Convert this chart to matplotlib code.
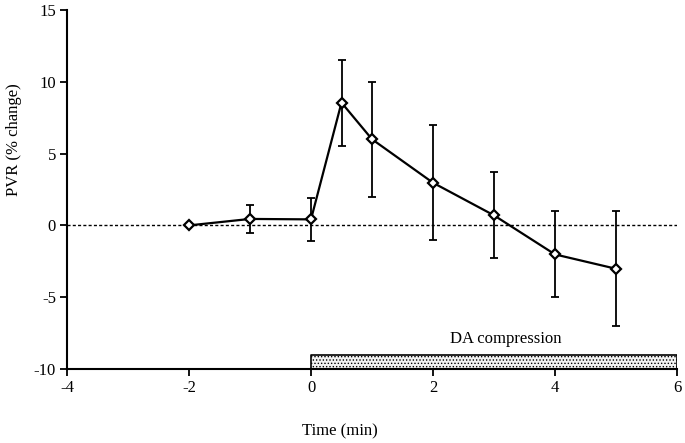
import matplotlib
matplotlib.use("Agg")
import matplotlib.pyplot as plt
import numpy as np

plt.rcParams['font.family'] = ['Liberation Serif', 'DejaVu Serif']
plt.rcParams['hatch.linewidth'] = 0.6

times = [-2, -1, 0, 0.5, 1, 2, 3, 4, 5]
pvr = [0.0, 0.45, 0.42, 8.55, 6.0, 2.97, 0.7, -2.02, -3.02]
sem = [0.0, 1.0, 1.5, 3.0, 4.0, 4.0, 3.0, 3.0, 4.0]
xticks = [-4, -2, 0, 2, 4, 6]
yticks = [-10, -5, 0, 5, 10, 15]
compression_start, compression_end = 0, 6
compression_label = "DA compression"

fig = plt.figure(figsize=(6.85, 4.43), dpi=100)
ax = fig.add_axes([67/685, 74/443, 610/685, 359/443])

ax.set_xlim(-4, 6)
ax.set_ylim(-10, 15)

# zero reference line
ax.plot([-4, 6], [0, 0], color='black', lw=1.0, linestyle=(0, (2.2, 1.6)), zorder=1)

# error bars (skip zero-length)
t = np.array(times); p = np.array(pvr); e = np.array(sem)
m = e > 0
ax.errorbar(t[m], p[m], yerr=e[m], fmt='none', ecolor='black', elinewidth=1.3,
            capsize=3.2, capthick=1.3, zorder=2)
ax.plot(times, pvr, color='black', lw=1.6, marker='D', markersize=5,
        markerfacecolor='white', markeredgecolor='black', markeredgewidth=1.6, zorder=3)

# compression bar
ax.fill_between([compression_start, compression_end], -10, -9.05, facecolor='#f2f2f2',
                edgecolor='black', hatch='.....', linewidth=1.2, zorder=2)
ax.text(3.2, -7.9, compression_label, ha='center', va='center', fontsize=12)

ax.set_xticks(xticks)
ax.set_yticks(yticks)
ax.set_xticklabels([str(v) for v in xticks])
ax.set_yticklabels([str(v) for v in yticks])
ax.tick_params(direction='out', length=5, width=1.3, labelsize=12, pad=3)
for s in ['top', 'right']:
    ax.spines[s].set_visible(False)
for s in ['left', 'bottom']:
    ax.spines[s].set_linewidth(1.5)

fig.text(340/685, 1 - 431/443, "Time (min)", ha='center', va='center', fontsize=12)
fig.text(14/685, 1 - 140/443, "PVR (% change)", ha='center', va='center',
         rotation=90, fontsize=12)

fig.savefig("out.png", dpi=100)
